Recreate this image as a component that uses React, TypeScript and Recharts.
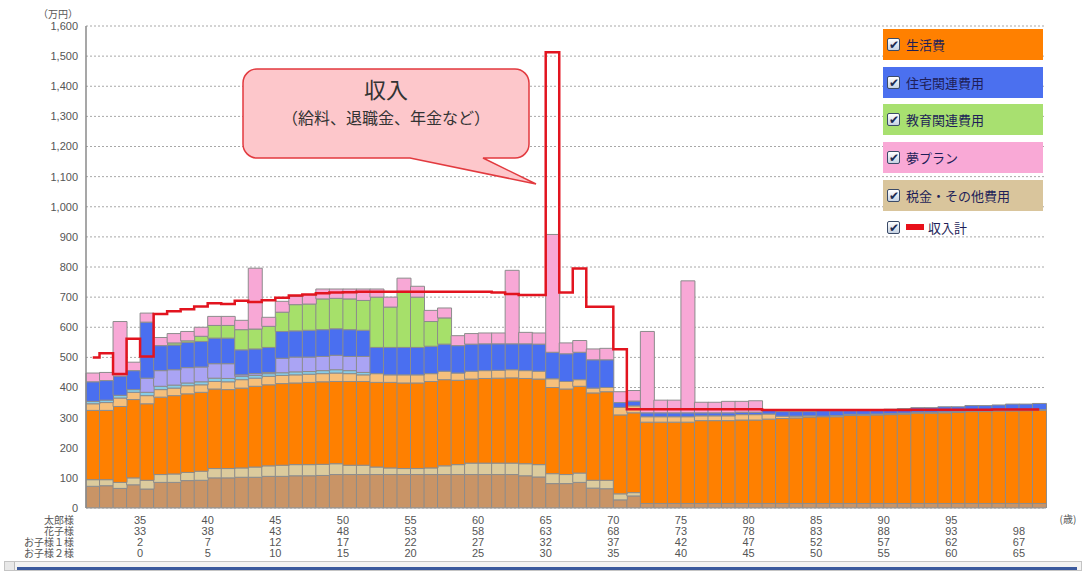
import { ComposedChart, Bar, Line, XAxis, YAxis, CartesianGrid } from 'recharts';

// ages of 太郎様 (one bar per year)
const AGES = [
  31, 32, 33, 34, 35, 36, 37, 38, 39, 40, 41, 42, 43, 44, 45, 46, 47, 48, 49, 50,
  51, 52, 53, 54, 55, 56, 57, 58, 59, 60, 61, 62, 63, 64, 65, 66, 67, 68, 69, 70,
  71, 72, 73, 74, 75, 76, 77, 78, 79, 80, 81, 82, 83, 84, 85, 86, 87, 88, 89, 90,
  91, 92, 93, 94, 95, 96, 97, 98, 99, 100, 101,
];

// 税金・その他費用 (two shades)
const TAX = [
  72, 74, 65, 77, 63, 85, 85, 91, 92, 100, 100, 102, 102, 105, 105, 107, 107, 108, 111, 111,
  111, 111, 111, 111, 111, 111, 111, 111, 111, 111, 111, 111, 107, 103, 81, 81, 85, 66, 64, 27,
  40, 15, 15, 15, 15, 15, 15, 15, 15, 15, 15, 15, 15, 15, 15, 15, 15, 15, 15, 15,
  15, 15, 15, 15, 15, 15, 15, 15, 15, 15, 15,
];
const OTHER = [
  22, 20, 20, 23, 29, 26, 28, 27, 30, 31, 31, 31, 34, 35, 37, 37, 37, 37, 36, 31,
  31, 25, 22, 20, 20, 22, 29, 33, 38, 38, 38, 38, 40, 41, 33, 30, 31, 26, 28, 20,
  11, 0, 0, 0, 0, 0, 0, 0, 0, 0, 0, 0, 0, 0, 0, 0, 0, 0, 0, 0,
  0, 0, 0, 0, 0, 0, 0, 0, 0, 0, 0,
];
// 生活費 (two shades)
const LIVING = [
  230, 230, 252, 260, 254, 257, 260, 261, 262, 264, 262, 265, 268, 269, 271, 271, 273, 274, 273, 278,
  278, 281, 284, 284, 284, 287, 286, 280, 279, 281, 282, 283, 283, 284, 286, 284, 288, 290, 294, 262,
  265, 270, 270, 270, 270, 275, 275, 275, 277, 277, 280, 282, 284, 287, 288, 288, 292, 293, 294, 295,
  297, 300, 300, 301, 302, 305, 305, 307, 307, 308, 309,
];
const LIVING_SUB = [
  22, 26, 28, 24, 27, 25, 25, 27, 25, 25, 26, 28, 27, 28, 27, 27, 27, 27, 28, 26,
  22, 29, 25, 27, 27, 26, 28, 24, 26, 26, 26, 27, 26, 26, 29, 25, 22, 16, 14, 25,
  23, 18, 18, 18, 18, 16, 16, 16, 18, 18, 17, 8, 6, 4, 2, 4, 4, 3, 3, 3,
  3, 3, 3, 3, 3, 3, 3, 3, 3, 3, 3,
];
// 住宅関連費用 (three shades)
const HOUSING_TAX = [
  8, 8, 9, 9, 11, 11, 10, 9, 10, 11, 11, 11, 9, 9, 9, 10, 9, 10, 11, 10,
  8, 0, 0, 0, 0, 0, 0, 0, 0, 0, 0, 0, 0, 0, 0, 0, 0, 0, 0, 0,
  0, 0, 0, 0, 0, 0, 0, 0, 0, 0, 0, 0, 0, 0, 0, 0, 0, 0, 0, 0,
  0, 0, 0, 0, 0, 0, 0, 0, 0, 0, 0,
];
const HOUSING_SUB = [
  0, 0, 0, 0, 47, 52, 51, 51, 49, 48, 49, 5, 6, 4, 48, 49, 48, 47, 48, 47,
  53, 0, 0, 0, 0, 0, 0, 0, 0, 0, 0, 0, 0, 0, 0, 0, 0, 0, 0, 0,
  0, 0, 0, 0, 0, 0, 0, 0, 0, 0, 0, 0, 0, 0, 0, 0, 0, 0, 0, 0,
  0, 0, 0, 0, 0, 0, 0, 0, 0, 0, 0,
];
const HOUSING = [
  65, 65, 64, 63, 186, 83, 82, 84, 85, 85, 85, 83, 82, 83, 89, 87, 89, 89, 88, 89,
  87, 87, 91, 91, 91, 91, 90, 91, 90, 89, 88, 86, 89, 90, 88, 92, 91, 94, 92, 16,
  16, 13, 13, 13, 13, 10, 10, 10, 8, 8, 13, 15, 15, 14, 18, 16, 12, 14, 13, 15,
  15, 15, 15, 17, 16, 17, 17, 17, 20, 19, 20,
];
// 教育関連費用
const EDUCATION = [
  0, 0, 0, 0, 0, 0, 7, 5, 17, 42, 42, 67, 66, 70, 64, 87, 87, 102, 101, 102,
  99, 167, 134, 186, 167, 82, 87, 0, 0, 0, 0, 0, 0, 0, 0, 0, 0, 0, 0, 0,
  0, 0, 0, 0, 0, 0, 0, 0, 0, 0, 0, 0, 0, 0, 0, 0, 0, 0, 0, 0,
  0, 0, 0, 0, 0, 0, 0, 0, 0, 0, 0,
];
// 夢プラン
const DREAM = [
  29, 27, 181, 28, 30, 27, 31, 31, 30, 30, 30, 31, 202, 30, 36, 27, 31, 33, 31, 33,
  38, 27, 33, 44, 36, 37, 33, 33, 35, 36, 36, 244, 38, 37, 391, 36, 39, 36, 38, 36,
  35, 270, 42, 42, 438, 35, 35, 38, 36, 38, 0, 0, 0, 0, 0, 0, 0, 0, 0, 0,
  0, 0, 0, 0, 0, 0, 0, 0, 0, 0, 0,
];
// 収入計
const INCOME = [
  500, 514, 445, 562, 503, 644, 653, 660, 669, 680, 677, 688, 684, 690, 698, 705, 709, 713, 715, 716,
  718, 718, 718, 718, 718, 718, 718, 718, 718, 718, 715, 710, 707, 707, 1513, 715, 795, 668, 668, 527,
  328, 328, 328, 328, 328, 328, 328, 328, 328, 328, 325, 325, 325, 325, 325, 325, 325, 325, 325, 325,
  325, 326, 326, 326, 326, 326, 326, 327, 327, 327, 327,
];

const Y_TICKS = [0, 100, 200, 300, 400, 500, 600, 700, 800, 900, 1000, 1100, 1200, 1300, 1400, 1500, 1600];

const TICK_AGES = [35, 40, 45, 50, 55, 60, 65, 70, 75, 80, 85, 90, 95, 100];
const TARO = ['35', '40', '45', '50', '55', '60', '65', '70', '75', '80', '85', '90', '95', ''];
const HANAKO = ['33', '38', '43', '48', '53', '58', '63', '68', '73', '78', '83', '88', '93', '98'];
const CHILD1 = ['2', '7', '12', '17', '22', '27', '32', '37', '42', '47', '52', '57', '62', '67'];
const CHILD2 = ['0', '5', '10', '15', '20', '25', '30', '35', '40', '45', '50', '55', '60', '65'];
const ROW_LABELS = ['太郎様', '花子様', 'お子様１様', 'お子様２様'];

const LEGEND_ITEMS = [
  { name: '生活費', color: '#ff8000' },
  { name: '住宅関連費用', color: '#4b70ef' },
  { name: '教育関連費用', color: '#a8e070' },
  { name: '夢プラン', color: '#f9a9d6' },
  { name: '税金・その他費用', color: '#d9c59c' },
];

const data = AGES.map((age, i) => ({
  age,
  tax: TAX[i],
  other: OTHER[i],
  living: LIVING[i],
  livingSub: LIVING_SUB[i],
  housingTax: HOUSING_TAX[i],
  housingSub: HOUSING_SUB[i],
  housing: HOUSING[i],
  education: EDUCATION[i],
  dream: DREAM[i],
  income: INCOME[i],
}));

const SERIES = [
  { key: 'tax', color: '#c99466' },
  { key: 'other', color: '#dccb9d' },
  { key: 'living', color: '#ff8000' },
  { key: 'livingSub', color: '#f6c07c' },
  { key: 'housingTax', color: '#86cde8' },
  { key: 'housingSub', color: '#aaa4f4' },
  { key: 'housing', color: '#4a6ff0' },
  { key: 'education', color: '#a6e06a' },
  { key: 'dream', color: '#f8a8d6' },
];

const FONT = '"Noto Sans CJK JP", "DejaVu Sans", sans-serif';
const NUM_FONT = '"Liberation Sans", Arial, sans-serif';

function AgeTick(props: any) {
  const { x, y, payload } = props;
  const i = TICK_AGES.indexOf(payload.value);
  if (i < 0) return null;
  const tx = x - (payload.offset ?? 6.76);
  const rows = [TARO[i], HANAKO[i], CHILD1[i], CHILD2[i]];
  return (
    <g>
      {rows.map((t, r) => (
        <text key={r} x={tx} y={y + 16 + r * 11} textAnchor="middle" fontSize={11} fill="#555" fontFamily={NUM_FONT}>
          {t}
        </text>
      ))}
    </g>
  );
}

function CheckBox() {
  return (
    <span
      style={{
        display: 'inline-block',
        position: 'relative',
        width: 11,
        height: 11,
        border: '1px solid #3b4b68',
        borderRadius: 2,
        background: 'linear-gradient(#ffffff, #c6d2e2)',
        marginRight: 6,
        verticalAlign: 'middle',
      }}
    >
      <span style={{ position: 'absolute', left: 1, top: -4, fontSize: 12, color: '#1b2b52', fontWeight: 700 }}>✔</span>
    </span>
  );
}

function Overlay() {
  return (
    <svg width={1084} height={573} style={{ position: 'absolute', left: 0, top: 0, pointerEvents: 'none' }}>
      <path
        d="M257,69 L515,69 A14,14 0 0 1 529,83 L529,144 A14,14 0 0 1 515,158 L483,158 L536,184 L410,158 L257,158 A14,14 0 0 1 243,144 L243,83 A14,14 0 0 1 257,69 Z"
        fill="#fdc7cb"
        stroke="#e23a3f"
        strokeWidth={1.5}
      />
      <text x={386} y={98} textAnchor="middle" fontSize={22} fill="#333" fontFamily={FONT}>
        収入
      </text>
      <text x={386} y={124} textAnchor="middle" fontSize={16} fill="#333" fontFamily={FONT}>
        （給料、退職金、年金など）
      </text>
      {ROW_LABELS.map((t, r) => (
        <text key={t} x={74} y={524 + r * 11} textAnchor="end" fontSize={10} fill="#555" fontFamily={FONT}>
          {t}
        </text>
      ))}
      <text x={58} y={18} fontSize={10} textAnchor="middle" fill="#555" fontFamily={FONT}>
        （万円）
      </text>
      <text x={1068} y={523} fontSize={10} textAnchor="middle" fill="#555" fontFamily={FONT}>
        (歳)
      </text>
    </svg>
  );
}

export default function App() {
  return (
    <div style={{ position: 'absolute', left: 0, top: 0, width: 1084, height: 573, background: '#fff', fontFamily: FONT }}>
      <ComposedChart
        width={1084}
        height={573}
        data={data}
        margin={{ top: 26, right: 38, bottom: 5, left: 0 }}
        barCategoryGap={0}
        barGap={0}
      >
        <CartesianGrid vertical={false} stroke="#a8a8a8" strokeDasharray="2 2" />
        <XAxis
          dataKey="age"
          interval={0}
          height={60}
          tickLine={false}
          tickSize={0}
          tickMargin={0}
          axisLine={{ stroke: '#999' }}
          tick={<AgeTick />}
        />
        <YAxis
          width={86}
          domain={[0, 1600]}
          ticks={Y_TICKS}
          tickFormatter={(v: number) => v.toLocaleString('en-US')}
          tickLine={false}
          tickSize={0}
          tickMargin={8}
          axisLine={{ stroke: '#8a8a8a', strokeWidth: 1.5 }}
          tick={{ fontSize: 11, fill: '#555', fontFamily: NUM_FONT }}
          allowDataOverflow
        />
        <YAxis
          yAxisId="frame"
          orientation="right"
          width={0}
          domain={[0, 1600]}
          tick={false}
          tickLine={false}
          axisLine={{ stroke: '#8a8a8a', strokeWidth: 1.5 }}
        />
        {SERIES.map((s) => (
          <Bar
            key={s.key}
            dataKey={s.key}
            stackId="cost"
            fill={s.color}
            stroke="#8c8c8c"
            strokeWidth={1}
            isAnimationActive={false}
          />
        ))}
        <Line
          dataKey="income"
          type="step"
          stroke="#e2141f"
          strokeWidth={2.5}
          dot={false}
          isAnimationActive={false}
        />
      </ComposedChart>

      <Overlay />

      <div style={{ position: 'absolute', left: 883, top: 29, width: 160 }}>
        {LEGEND_ITEMS.map((item) => (
          <div
            key={item.name}
            style={{
              height: 31,
              marginBottom: 6.7,
              background: item.color,
              display: 'flex',
              alignItems: 'center',
              paddingLeft: 4,
              fontSize: 13,
              color: '#1e1e58',
            }}
          >
            <CheckBox />
            {item.name}
          </div>
        ))}
        <div style={{ height: 20, display: 'flex', alignItems: 'center', paddingLeft: 4, fontSize: 13, color: '#1e1e58' }}>
          <CheckBox />
          <span style={{ display: 'inline-block', width: 18, height: 6, background: '#e8101a', marginRight: 4 }} />
          収入計
        </div>
      </div>

      <div
        style={{
          position: 'absolute',
          left: 4,
          top: 561,
          width: 1076,
          height: 8,
          border: '1px solid #c4c4c4',
          background: '#f3f3f3',
        }}
      >
        <div style={{ position: 'absolute', left: 0, top: 0, width: 9, height: 8, borderRight: '1px solid #bbb', background: '#e8e8e8' }} />
        <div style={{ position: 'absolute', left: 12, right: 4, top: 5, height: 3, background: '#3b5a9e' }} />
      </div>
    </div>
  );
}
